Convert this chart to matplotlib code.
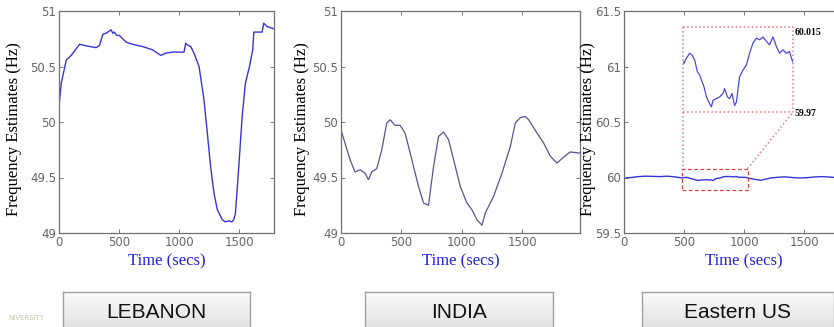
import numpy as np
import matplotlib
matplotlib.use("Agg")
import matplotlib.pyplot as plt

# LEBANON frequency estimates
leb_t = [0, 19, 61, 102, 171, 213, 254, 309, 337, 365, 392, 420, 434, 448, 461, 480, 503, 530,
         558, 613, 696, 779, 848, 889, 945, 1041, 1055, 1075, 1097, 1124, 1166, 1207, 1235, 1262,
         1290, 1318, 1359, 1385, 1414, 1440, 1455, 1469, 1497, 1525, 1552, 1586, 1600, 1613,
         1622, 1650, 1691, 1704, 1732, 1760, 1787]
leb_f = [50.15, 50.35, 50.56, 50.60, 50.70, 50.69, 50.68, 50.67, 50.69, 50.79, 50.80, 50.82, 50.83,
         50.80, 50.81, 50.78, 50.78, 50.75, 50.72, 50.70, 50.68, 50.65, 50.60, 50.62, 50.63, 50.63,
         50.71, 50.69, 50.68, 50.62, 50.50, 50.20, 49.90, 49.60, 49.36, 49.21, 49.12, 49.10, 49.11,
         49.10, 49.12, 49.18, 49.60, 50.05, 50.35, 50.50, 50.58, 50.65, 50.81, 50.81, 50.81, 50.89,
         50.86, 50.85, 50.84]

# INDIA frequency estimates
ind_t = [0, 33, 75, 116, 158, 199, 227, 255, 296, 338, 379, 407, 448, 490, 531, 587, 642, 684, 725,
         767, 808, 850, 891, 933, 988, 1043, 1085, 1126, 1168, 1195, 1264, 1334, 1403, 1444, 1486,
         1527, 1555, 1624, 1679, 1735, 1790, 1841, 1899, 1982]
ind_f = [49.93, 49.81, 49.66, 49.55, 49.57, 49.54, 49.48, 49.55, 49.58, 49.75, 49.99, 50.02, 49.97,
         49.97, 49.90, 49.66, 49.42, 49.27, 49.25, 49.60, 49.87, 49.91, 49.84, 49.66, 49.42, 49.27,
         49.21, 49.12, 49.07, 49.18, 49.33, 49.54, 49.78, 49.99, 50.04, 50.05, 50.02, 49.90, 49.81,
         49.69, 49.63, 49.68, 49.73, 49.72]

# Eastern US frequency estimates
eus_t = [0, 60, 120, 180, 240, 300, 360, 420, 485, 497, 513, 525, 538, 552, 563, 572, 585, 597,
         613, 622, 630, 647, 663, 680, 688, 702, 713, 725, 738, 747, 763, 780, 797, 813, 830, 847,
         863, 880, 897, 913, 930, 947, 963, 980, 997, 1013, 1025, 1060, 1100, 1140, 1180, 1220,
         1280, 1340, 1400, 1460, 1520, 1580, 1640, 1700, 1760, 1820, 1880, 1950, 2000]
eus_f = [59.995, 60.0, 60.008, 60.012, 60.01, 60.008, 60.012, 60.006, 59.9958, 59.9985, 60.0011,
         60.0002, 59.9976, 59.9913, 59.9896, 59.9869, 59.9833, 59.978, 59.9744, 59.9727, 59.9762,
         59.9771, 59.978, 59.9798, 59.9824, 59.978, 59.9771, 59.9798, 59.9735, 59.9753, 59.9887,
         59.9922, 59.9949, 60.0011, 60.0065, 60.0091, 60.0082, 60.0097, 60.0074, 60.0056, 60.0097,
         60.0047, 60.0011, 60.0029, 60.0011, 60.002, 59.9976, 59.99, 59.982, 59.975, 59.985,
         59.995, 60.002, 60.006, 60.0, 59.996, 59.998, 60.004, 60.008, 60.005, 60.0, 60.003,
         60.005, 60.004, 60.01]

zoom_win = (480, 1030)
zoom_lim = (59.97, 60.015)

regions = ["LEBANON", "INDIA", "Eastern US"]

fig = plt.figure(figsize=(8.34, 3.27), dpi=100)

W, H = 834.0, 327.0
serif = "Liberation Serif"


def make_ax(left, right, xmax, ylim, yticks, ylab_x):
    ax = fig.add_axes([left / W, (H - 233) / H, (right - left) / W, 222 / H])
    ax.set_xlim(0, xmax)
    ax.set_ylim(*ylim)
    ax.set_xticks([0, 500, 1000, 1500])
    ax.set_yticks(yticks)
    ax.set_yticklabels([("%g" % v) for v in yticks])
    ax.tick_params(direction="in", length=3, width=0.6, top=True, right=True,
                   labelsize=8.5, colors="#666666", pad=2)
    for s in ax.spines.values():
        s.set_color("#707070")
        s.set_linewidth(0.9)
    ax.set_ylabel("Frequency Estimates (Hz)", family=serif, fontsize=12, color="black")
    ax.set_xlabel("Time (secs)", family=serif, fontsize=12, color="#2222dd")
    ax.yaxis.set_label_coords(ylab_x, 0.47)
    ax.xaxis.set_label_coords(0.5, -0.09)
    return ax


ax1 = make_ax(59, 274, 1790, (49, 51), [49, 49.5, 50, 50.5, 51], -0.17)
ax1.plot(leb_t, leb_f, color="#3535d8", lw=1.0)

ax2 = make_ax(341, 580, 1980, (49, 51), [49, 49.5, 50, 50.5, 51], -0.13)
ax2.plot(ind_t, ind_f, color="#55558f", lw=0.9)

ax3 = make_ax(624, 864, 2000, (59.5, 61.5), [59.5, 60, 60.5, 61, 61.5], -0.115)
ax3.plot(eus_t, eus_f, color="#3535d8", lw=1.0)

# zoom box and inset
x0, x1 = zoom_win
ax3.plot([x0, x1, x1, x0, x0], [59.89, 59.89, 60.08, 60.08, 59.89], ls="--", lw=0.9,
         color="#d84040", dashes=(3, 2))
ix0, ix1, iy0, iy1 = 492, 1408, 60.59, 61.356
red2 = "#e07878"
ax3.plot([ix0, ix1, ix1], [iy1, iy1, iy0], ls=":", lw=1.1, color=red2)
ax3.plot([ix0, ix1], [iy0, iy0], ls=":", lw=1.1, color=red2)
ax3.plot([ix0, ix0], [iy1, 60.08], ls=":", lw=1.1, color=red2)
ax3.plot([x1, ix1], [60.08, iy0], ls=":", lw=1.1, color=red2)
ax3.text(1425, 61.31, "60.015", fontsize=7, fontweight="bold", family=serif, va="center")
ax3.text(1425, 60.58, "59.97", fontsize=7, fontweight="bold", family=serif, va="center")

ins = ax3.inset_axes([ix0, iy0, ix1 - ix0, iy1 - iy0], transform=ax3.transData)
ins.plot(eus_t, eus_f, color="#4a4ae0", lw=0.9)
ins.set_xlim(*zoom_win)
ins.set_ylim(*zoom_lim)
ins.axis("off")

# region buttons
grad = np.linspace(0.985, 0.86, 64).reshape(-1, 1)
for name, (bl, br) in zip(regions, [(63, 250), (365, 553), (642, 834)]):
    bax = fig.add_axes([bl / W, (H - 337) / H, (br - bl) / W, 45 / H])
    bax.imshow(grad, aspect="auto", cmap="gray", vmin=0, vmax=1, extent=[0, 1, 0, 1])
    bax.set_xticks([])
    bax.set_yticks([])
    for s in bax.spines.values():
        s.set_color("#a0a0a0")
        s.set_linewidth(1.0)
    bax.text(0.5, 25 / 45.0, name, ha="center", va="center",
             fontsize=15, family="Liberation Sans", color="#111111",
             transform=bax.transAxes)

fig.text(0.01, 0.02, "NIVERSITY", fontsize=5, color="#c8c0b0")

fig.savefig("out.png", dpi=100)
